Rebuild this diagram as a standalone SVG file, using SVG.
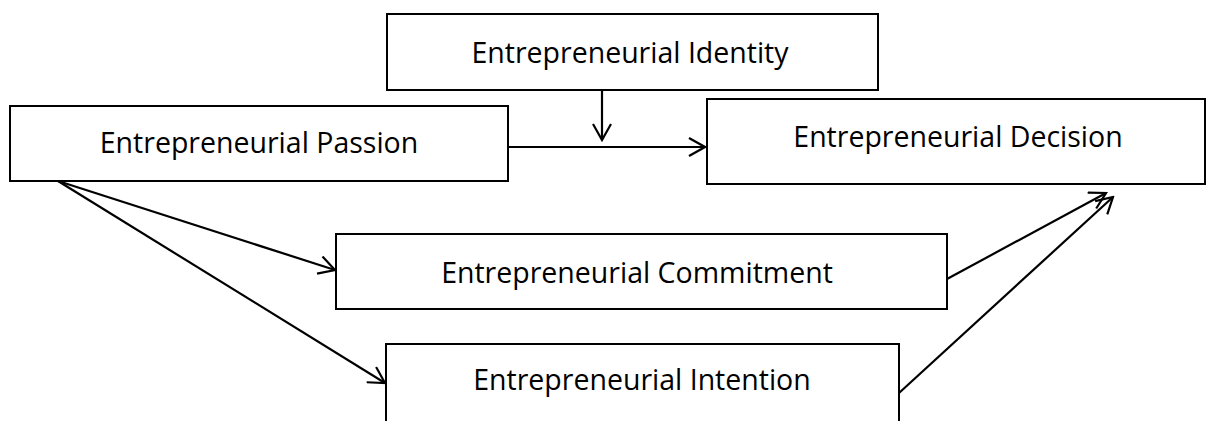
<svg xmlns="http://www.w3.org/2000/svg" width="1206" height="421" viewBox="0 0 1206 421">
<style>
.box{fill:#fff;stroke:#000;stroke-width:2}
.lbl{font-family:"Open Sans","Noto Sans",sans-serif;font-size:28.5px;fill:#000;text-anchor:middle}
.edge{fill:none;stroke:#000;stroke-width:2.2}
</style>
<defs>
<marker id="arr" viewBox="0 0 20 20" markerWidth="20" markerHeight="20" refX="18" refY="10" orient="auto" markerUnits="userSpaceOnUse">
<path d="M2,1 L18,10 L2,19" fill="none" stroke="#000" stroke-width="2.2"/>
</marker>
</defs>
<rect width="1206" height="421" fill="#fff"/>
<g id="connectors">
<line class="edge" x1="602" y1="90" x2="602" y2="140" marker-end="url(#arr)"/>
<line class="edge" x1="508" y1="147" x2="705" y2="147" marker-end="url(#arr)"/>
<line class="edge" x1="58" y1="181" x2="335" y2="270" marker-end="url(#arr)"/>
<line class="edge" x1="58" y1="181" x2="385" y2="383" marker-end="url(#arr)"/>
<line class="edge" x1="947" y1="279" x2="1106" y2="193" marker-end="url(#arr)"/>
<line class="edge" x1="899" y1="393" x2="1113" y2="197" marker-end="url(#arr)"/>
</g>
<g id="identity">
<rect class="box" x="387" y="14" width="491" height="76"/>
<text class="lbl" x="630" y="63">Entrepreneurial Identity</text>
</g>
<g id="passion">
<rect class="box" x="10" y="106" width="498" height="75"/>
<text class="lbl" x="259" y="153">Entrepreneurial Passion</text>
</g>
<g id="decision">
<rect class="box" x="707" y="99" width="498" height="85"/>
<text class="lbl" x="958" y="147">Entrepreneurial Decision</text>
</g>
<g id="commitment">
<rect class="box" x="336" y="234" width="611" height="75"/>
<text class="lbl" x="637" y="283">Entrepreneurial Commitment</text>
</g>
<g id="intention">
<rect class="box" x="386" y="344" width="513" height="90"/>
<text class="lbl" x="642" y="390">Entrepreneurial Intention</text>
</g>
</svg>
